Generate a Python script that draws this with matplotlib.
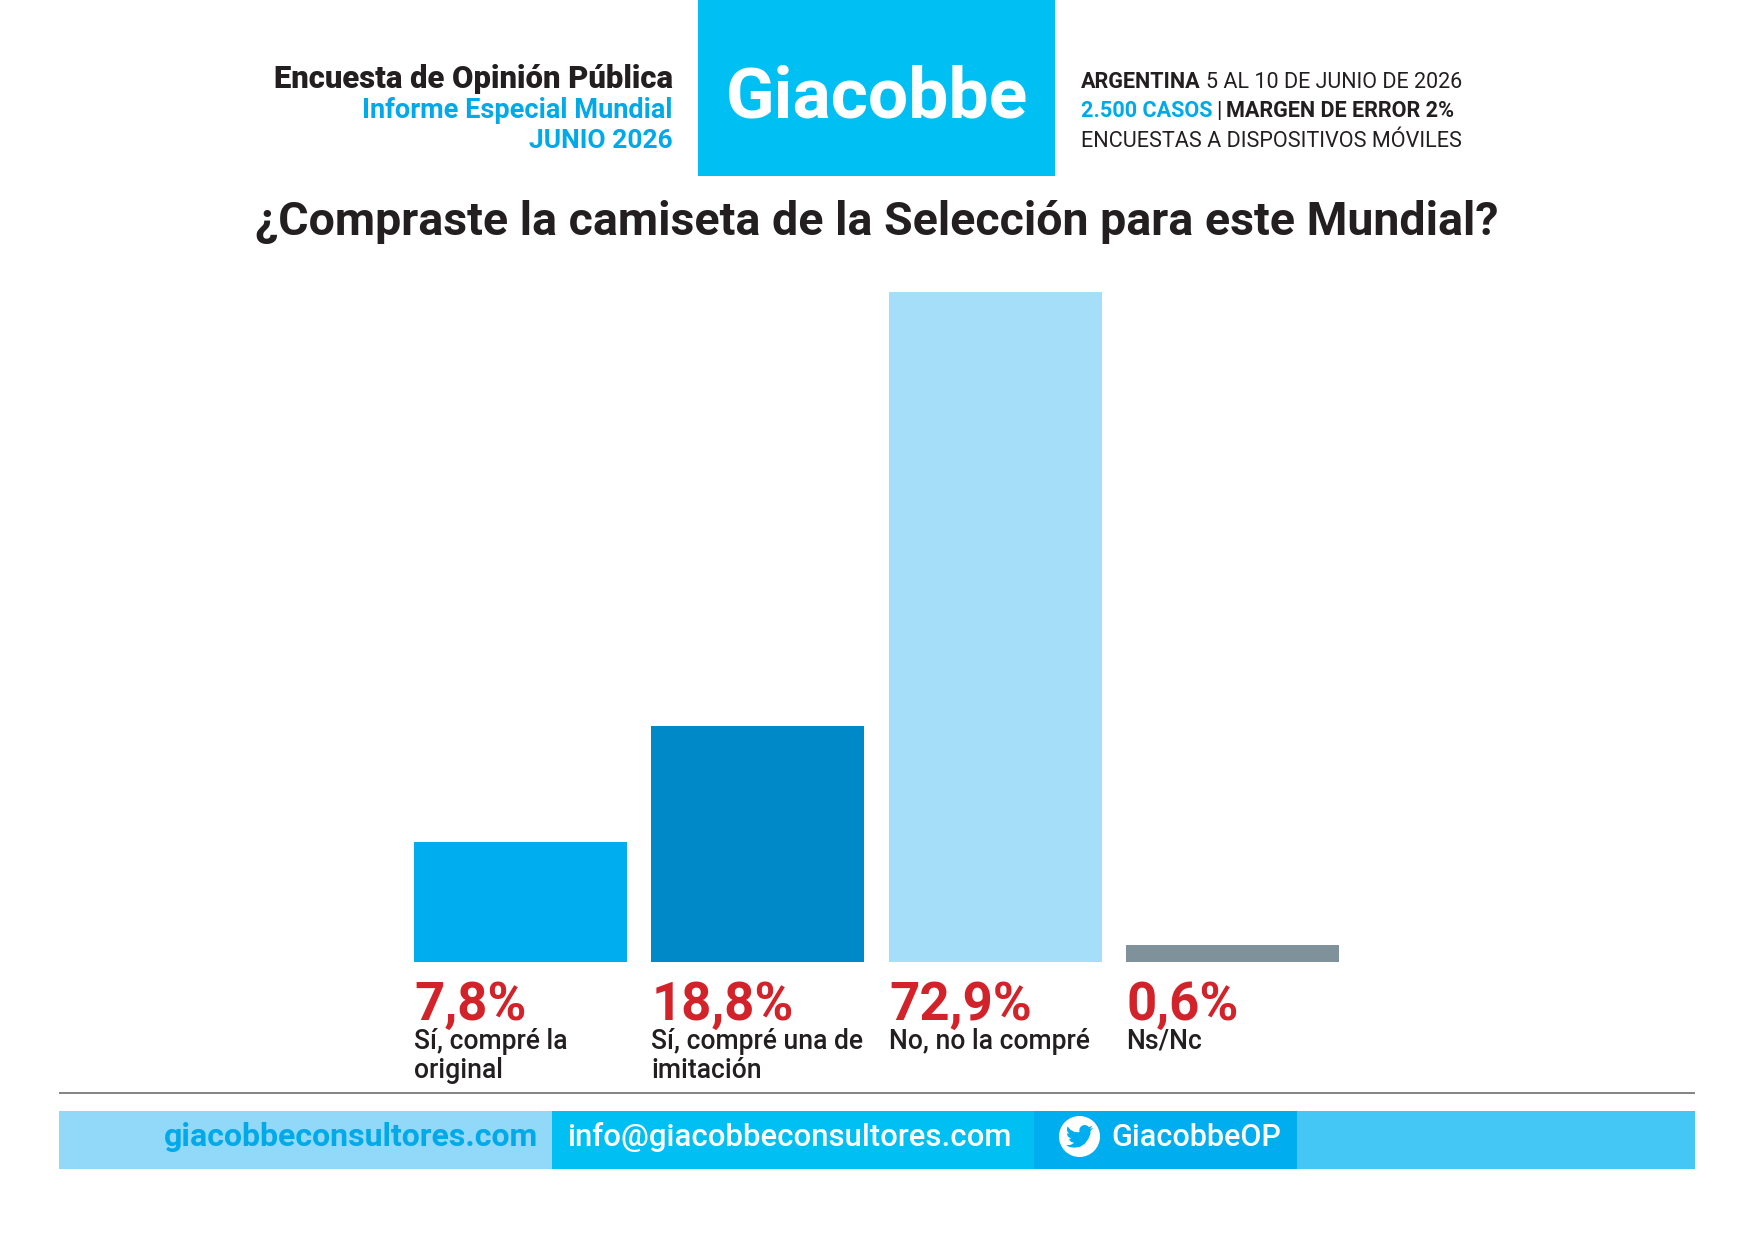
#!/usr/bin/env python3
"""Giacobbe poll chart: did you buy the national team shirt for the World Cup?"""

import matplotlib
matplotlib.use('Agg')
import matplotlib.pyplot as plt
from matplotlib.patches import Circle, Polygon, Rectangle

plt.rcParams['font.family'] = ['Roboto', 'DejaVu Sans']

categories = ['Sí, compré la\noriginal', 'Sí, compré una de\nimitación', 'No, no la compré', 'Ns/Nc']
values = [7.8, 18.8, 72.9, 0.6]
value_labels = ['7,8%', '18,8%', '72,9%', '0,6%']
bar_colors = ['#00AEEF', '#0089C9', '#A5DEF9', '#7F929B']

BLACK = '#231F20'
CYAN = '#00A9E8'
RED = '#D2232A'

W, H = 1754, 1241
fig = plt.figure(figsize=(W / 100, H / 100), dpi=100, facecolor='white')

# page layer in pixel coordinates for header and footer
page = fig.add_axes([0, 0, 1, 1])
page.set_xlim(0, W)
page.set_ylim(H, 0)
page.axis('off')


def txt(x, y, s, size, color=BLACK, weight='normal', ha='left'):
    page.text(x, y, s, fontsize=size, color=color, fontweight=weight, ha=ha, va='baseline')


def block(x0, x1, y0, y1, color):
    page.add_patch(Rectangle((x0, y0), x1 - x0, y1 - y0, color=color, lw=0))


# header
block(698, 1055, 0, 175.5, '#00C0F3')
txt(876.5, 118, 'Giacobbe', 51.4, 'white', 'bold', 'center')
txt(673, 88.5, 'Encuesta de Opinión Pública', 22.3, BLACK, 'black', 'right')
txt(673, 117.5, 'Informe Especial Mundial', 19.5, CYAN, 'bold', 'right')
txt(673, 147.5, 'JUNIO 2026', 19, CYAN, 'bold', 'right')

txt(1081, 88, 'ARGENTINA', 15.6, BLACK, 'bold')
txt(1206, 88, '5 AL 10 DE JUNIO DE 2026', 15.5)
txt(1081, 117, '2.500 CASOS', 15.6, CYAN, 'bold')
txt(1216, 117, '|', 15.6)
txt(1226, 117, 'MARGEN DE ERROR 2%', 15.6, BLACK, 'bold')
txt(1081, 147, 'ENCUESTAS A DISPOSITIVOS MÓVILES', 15.6)

txt(877, 235, '¿Compraste la camiseta de la Selección para este Mundial?', 33.5, BLACK, 'bold', 'center')

# bars: y axis is a compressed power scale, hidden
bar_w = 0.895
ax = fig.add_axes([414 / W, (H - 961.5) / H, (1339 - 414) / W, 669 / H])
ax.patch.set_alpha(0)
ax.set_yscale('function', functions=(lambda v: v ** 0.77, lambda v: v ** (1 / 0.77)))
ax.bar(range(len(values)), values, width=bar_w, color=bar_colors)
ax.set_xlim(-bar_w / 2, len(values) - 1 + bar_w / 2)
ax.set_ylim(0, max(values))
ax.axis('off')

for i, (label, cat) in enumerate(zip(value_labels, categories)):
    left = i - bar_w / 2
    ax.annotate(label, (left, 0), xytext=(0, -42), textcoords='offset points',
                fontsize=38, fontweight='bold', color=RED, va='baseline', annotation_clip=False)
    for j, line in enumerate(cat.split('\n')):
        ax.annotate(line, (left, 0), xytext=(0, -63 - j * 21), textcoords='offset points',
                    fontsize=19.1, fontweight='medium', color=BLACK, va='baseline', annotation_clip=False)

# footer
page.plot([59, 1695], [1092.5, 1092.5], color='#6D6E71', lw=1.2, solid_capstyle='butt')
block(59, 552, 1110.5, 1168.5, '#92D9F9')
block(552, 1034, 1110.5, 1168.5, '#00BFF3')
block(1034, 1297, 1110.5, 1168.5, '#00AEEF')
block(1297, 1695, 1110.5, 1168.5, '#45C7F5')
txt(538, 1146.5, 'giacobbeconsultores.com', 23, CYAN, 'bold', 'right')
txt(567, 1146.5, 'info@giacobbeconsultores.com', 22.4, 'white', 'medium')
txt(1111, 1146.5, 'GiacobbeOP', 22, 'white', 'medium')

# twitter badge
page.add_patch(Circle((1079.5, 1136.5), 20.5, color='white', lw=0))
bird = [(24, 4.57), (21.1, 5.35), (23.3, 2.62), (20.16, 3.8), (18.7, 2.5), (16.9, 1.95), (15, 2.2),
        (13.2, 3.3), (12, 5.2), (11.8, 8.29), (7.7, 8.1), (4.1, 6.1), (1.64, 3.16), (0.97, 5.64),
        (1.6, 8), (3.16, 9.73), (0.93, 9.12), (1.9, 12), (4.88, 14), (2.67, 14.09), (4.4, 16.5),
        (7.27, 17.5), (4.5, 19.2), (1.17, 19.6), (0, 19.54), (3.5, 21.2), (7.56, 21.75),
        (12.5, 21), (16.5, 18.4), (19.8, 14), (21.55, 9.5), (21.55, 7.76), (21.54, 7.13)]
page.add_patch(Polygon([(1079.5 + (x - 12) * 1.15, 1136.5 + (y - 12) * 1.15) for x, y in bird],
                       color='#00AEEF', lw=0))

fig.savefig('out.png', dpi=100, facecolor='white')
